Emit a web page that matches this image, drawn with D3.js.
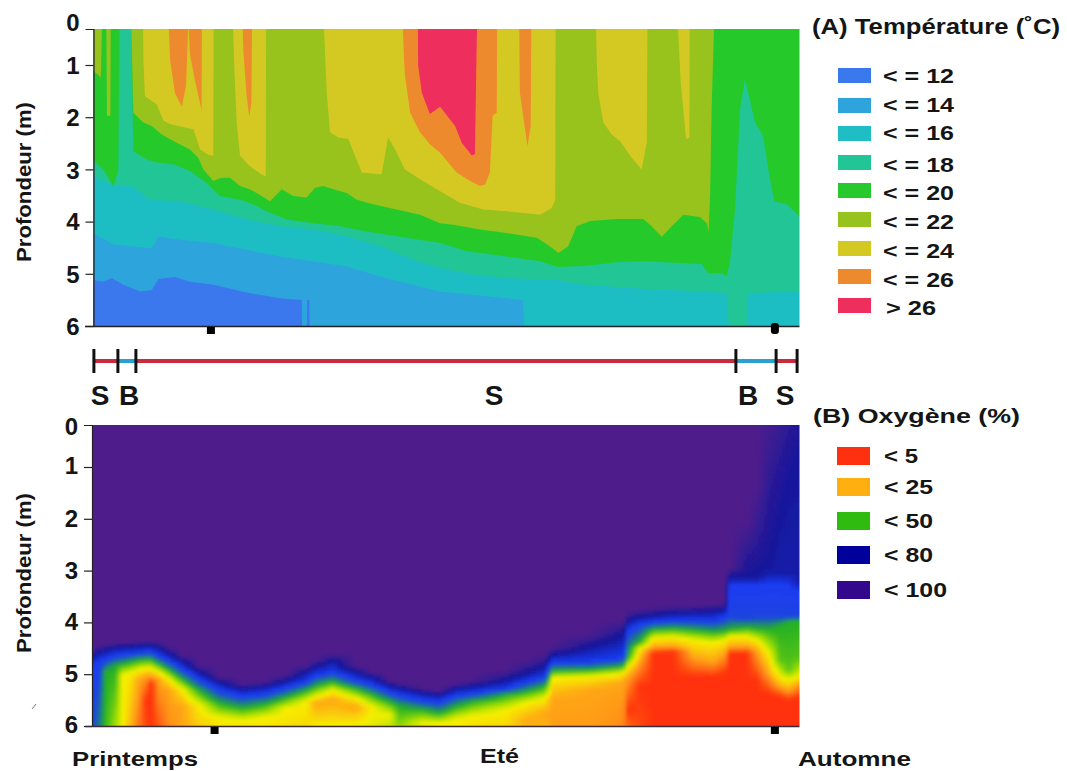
<!DOCTYPE html>
<html><head><meta charset="utf-8">
<script src="https://cdnjs.cloudflare.com/ajax/libs/d3/7.8.5/d3.min.js"></script>
<style>
html,body{margin:0;padding:0;background:#fff}
svg{display:block}
text{font-family:"Liberation Sans",Arial,sans-serif;font-weight:700;fill:#151515}
</style></head><body><div id="c"></div>
<script>
const _ = null;
// ---------- Panel A: temperature, depth (m) of each isotherm against day ----------
const tempLabels = ["< = 12","< = 14","< = 16","< = 18","< = 20","< = 22","< = 24","< = 26","> 26"];
const tempColors = ["#3a78ee","#2fa4dc","#1fbec4","#22c596","#28c92c","#97c31f","#d4c822","#ee8a2e","#ee2e5c"];
const iso12 = [[0,5.12],[3.45,5.15],[6.2,5.08],[10.1,5.21],[15.7,5.34],[19.6,5.31],[21.8,5.10],[27.3,5.06],[32.3,5.15],[40.1,5.21],[51.2,5.36],[62.3,5.47],[69.6,5.50],[69.7,6],[71.3,6],[71.4,5.50],[72.1,5.50],[72.2,6],[235.5,6]];
const iso14 = [[0,4.22],[6.8,4.44],[19.6,4.51],[21.8,4.28],[29,4.35],[40.1,4.41],[51.2,4.54],[62.3,4.67],[73.4,4.76],[84.6,4.86],[95.7,5.05],[106.8,5.21],[115.7,5.34],[126.8,5.40],[137.9,5.47],[143.4,5.50],[143.7,6],[235.5,6]];
const iso16 = [[0,3.13],[6.8,3.32],[12.9,3.32],[19,3.58],[29,3.61],[40.1,3.77],[51.2,3.96],[62.3,4.09],[73.4,4.15],[84.6,4.28],[95.7,4.47],[106.8,4.73],[115.7,4.89],[126.8,5.02],[137.9,5.08],[154.6,5.12],[163.4,5.21],[182.3,5.28],[202.3,5.34],[211.2,5.37],[212.1,6],[217.7,6],[218.4,5.37],[235.5,5.34]];
const iso18 = [[0,2.81],[3.45,3.0],[6.8,3.32],[7.1,3.29],[8.45,3.0],[8.8,0],[12.8,0],[12.9,0.86],[13.45,2.65],[17.9,2.81],[21.2,2.87],[26.8,2.90],[32.3,3.03],[37.9,3.26],[42.3,3.51],[49,3.58],[53.4,3.67],[57.9,3.80],[64.6,3.96],[73.4,4.03],[82.3,4.09],[91.2,4.19],[101.2,4.28],[115.7,4.41],[124.6,4.57],[137.9,4.67],[149,4.76],[155.1,4.87],[163.4,4.85],[174.6,4.78],[184.6,4.76],[193.4,4.79],[202.9,4.81],[205.1,4.99],[209.6,4.99],[211.2,5.05],[212.3,4.79],[214,3.77],[215.7,1.85],[217.3,1.27],[220.7,2.10],[223.4,2.36],[225.1,3.0],[227.1,3.61],[231.2,3.67],[235.5,3.90]];
const iso20 = [[0,1.1],[2.6,1.24],[3,0],[4.45,0],[4.67,1.97],[5.78,1.97],[5.89,0],[12.8,0],[12.9,0.4],[13.45,1.92],[16.8,2.10],[19.6,2.17],[22.9,2.33],[27.9,2.49],[32.3,2.62],[35.1,2.78],[36.8,3.0],[40.1,3.22],[42.9,3.16],[45.7,3.16],[49,3.32],[52.3,3.38],[56.2,3.51],[59,3.61],[62.9,3.38],[66.8,3.51],[71.2,3.54],[74,3.35],[76.8,3.32],[80.1,3.38],[84.6,3.45],[87.9,3.58],[93.4,3.67],[101.2,3.77],[109,3.87],[115.7,4.03],[120.1,4.06],[129,4.15],[137.9,4.22],[147.9,4.31],[152.3,4.47],[155.1,4.60],[158.4,4.47],[161.2,4.09],[165.7,3.99],[174.6,3.95],[183.4,3.95],[185.7,4.06],[189.6,4.29],[192.9,4.09],[196.8,3.87],[202.3,3.91],[204.6,4.03],[205.2,4.19],[205.7,3.51],[206.2,1.85],[207,0],[235.5,0]];
const iso22 = [[0,0],[16.7,0],[16.8,0.86],[17.3,1.60],[21.2,1.75],[23.5,2.07],[25.7,2.13],[29,2.18],[33.5,2.23],[35.7,2.62],[38.5,2.72],[40.1,2.74],[40.2,0],[46.7,0],[47,0.86],[47.9,2.10],[49,2.74],[52.3,2.94],[56.2,3.10],[57.6,3.13],[57.7,0],[77,0],[77.3,0.58],[77.9,1.53],[79,2.29],[81.8,2.39],[85.1,2.42],[89.6,3.06],[96.2,3.10],[98.4,2.39],[100.7,2.62],[104,3.0],[109,3.19],[115.7,3.42],[122.3,3.64],[130.1,3.77],[137.9,3.80],[149,3.87],[152.9,3.74],[154.1,3.58],[154.2,0],[167.7,0],[167.9,0.86],[168.4,1.53],[170.1,2.10],[172.9,2.33],[175.7,2.46],[179.6,2.78],[182.9,3.0],[184.6,2.49],[184.8,0],[195,0],[195.9,1.33],[197.7,2.42],[198.8,2.39],[198.9,0],[235.5,0]];
const iso24 = [[0,0],[25.3,0],[25.7,0.86],[27.3,1.53],[29.6,1.80],[31,1.40],[31.7,0.03],[31.9,0],[32.3,0.68],[34,1.3],[36.2,1.86],[36.3,0],[49.9,0],[50.1,0.58],[51.2,1.59],[52.1,1.99],[52.8,1.72],[53,0],[103.3,0],[103.7,0.86],[104,1.2],[105.7,1.91],[109,2.29],[112.3,2.52],[115.7,2.68],[121.2,3.06],[125.7,3.22],[129,3.32],[130.7,3.29],[132.3,3.06],[133.2,1.97],[134.6,1.91],[134.7,0],[142.1,0],[142.3,1.53],[144.8,2.55],[145.9,2.17],[146.1,0],[235.5,0]];
const iso26 = [[0,0],[108.3,0],[108.4,1.01],[109.6,1.53],[112.3,1.94],[115.7,1.8],[120.7,2.17],[122.9,2.49],[126.2,2.73],[127.3,2.71],[127.9,0.40],[128,0],[235.5,0]];
const isotherms = [iso12,iso14,iso16,iso18,iso20,iso22,iso24,iso26];

// ---------- Stratification phases ----------
const phaseBreakDays = [0.3,8.3,14.3,214.3,227.7,234.7];
const phases = ["S","B","S","B","S"];
const phaseColors = {S:"#c92a3e",B:"#2aa0d0"};

// ---------- Panel B: oxygen (%), depth (m) reached by each level in each column ----------
const o2Labels = ["< 5","< 25","< 50","< 80","< 100"];
const o2LegendColors = ["#ff3010","#ffb010","#30bb10","#00009a","#34088c"];
const o2Days = [0,2.3,4.6,7.9,10.1,12.3,15.7,17.9,19.6,22.4,25.7,30.1,35.7,42.3,50.1,57.9,64.6,71.2,74.6,80.1,87.9,93.5,99,102.3,110.1,
  115.7,121.2,126.8,137.9,144.6,150.7,153.4,165.7,175.7,177.1,178.4,182.3,186.8,193.4,200.1,206.8,210.7,212.3,217.9,221.2,225.1,229,231.8,235.5];
const depth100 = [4.54,4.44,4.41,4.38,4.38,4.37,4.36,4.35,4.35,4.37,4.47,4.64,4.83,5.04,5.18,5.13,5.0,4.83,4.72,4.60,4.83,4.96,5.12,5.17,5.26,
  5.31,5.18,5.11,4.92,4.73,4.60,4.47,4.22,3.96,3.9,3.77,3.74,3.71,3.67,3.67,3.64,3.61,2.94,2.04,1.4,_,_,_,_];
const depth88 = [4.67,4.57,4.54,4.49,4.47,4.47,4.45,4.44,4.44,4.49,4.60,4.74,4.96,5.15,5.28,5.23,5.12,4.96,4.85,4.73,4.96,5.06,5.21,5.26,5.36,
  5.40,5.28,5.23,5.12,4.99,4.86,4.62,4.47,4.28,4.22,3.99,3.90,3.87,3.82,3.80,3.78,3.74,3.13,3.13,3.13,2.94,2.04,1.40,0.95];
const depth86 = [_,_,_,_,_,_,_,_,_,_,_,_,_,_,_,_,_,_,_,_,_,_,_,_,_,
  _,_,_,_,_,_,_,_,_,_,_,_,_,_,_,_,_,_,_,_,3.05,3.05,3.05,3.25];
const depth75 = [4.83,4.76,4.70,4.63,4.62,4.60,4.58,4.57,4.57,4.65,4.74,4.90,5.10,5.30,5.42,5.37,5.26,5.15,5.02,4.96,5.12,5.21,5.34,5.40,5.50,
  5.53,5.40,5.37,5.28,5.15,5.05,4.77,4.76,4.70,4.63,4.15,4.03,3.99,3.96,3.96,3.97,3.90,3.30,3.29,3.29,3.26,3.26,3.29,3.40];
const depth70 = [_,_,_,_,_,_,_,_,_,_,_,_,_,_,_,_,_,_,_,_,_,_,_,_,_,
  _,_,_,_,_,_,_,_,_,_,_,_,_,_,_,_,_,3.90,3.93,3.90,3.90,3.90,3.90,3.90];
const depth50 = [_,_,4.96,4.85,4.81,4.78,4.73,4.72,4.72,4.81,4.92,5.10,5.32,5.56,5.66,5.58,5.45,5.32,5.23,5.15,5.28,5.40,5.53,5.62,5.69,
  5.76,5.63,5.53,5.40,5.34,5.24,4.94,4.92,4.86,4.83,4.67,4.38,4.14,4.12,4.15,4.19,4.17,4.14,4.10,4.12,4.14,4.06,3.99,3.96];
const depth45 = [_,_,_,_,_,_,_,_,_,_,_,_,_,_,_,_,_,_,_,_,_,_,_,_,_,
  _,_,_,_,_,_,_,_,_,_,_,_,_,_,_,_,_,_,_,_,_,4.73,4.92,4.70];
const depth30 = [_,_,_,_,5.02,4.99,4.92,4.89,4.89,4.97,5.10,5.29,5.60,5.85,5.90,5.83,5.66,5.53,5.44,5.32,5.47,5.64,5.79,_,5.95,
  5.95,5.88,5.81,5.69,5.56,5.47,5.08,5.05,5.0,4.96,4.86,4.51,4.31,4.29,4.35,4.40,4.35,4.28,4.28,4.35,4.60,5.05,5.12,5.05];
const depth20 = [_,_,_,_,_,_,5.11,5.04,5.03,5.11,5.31,5.63,_,_,_,_,_,_,5.56,5.50,5.63,_,_,_,_,
  _,_,_,_,5.92,5.76,5.47,5.31,5.18,5.11,5.05,4.76,4.47,4.46,4.67,4.76,4.60,4.47,4.46,4.54,4.99,5.24,5.31,5.18];
const depth5 = [_,_,_,_,_,_,_,5.50,5.18,_,_,_,_,_,_,_,_,_,_,_,_,_,_,_,_,
  _,_,_,_,_,_,_,_,_,_,5.69,5.24,4.60,4.57,5.05,5.05,4.99,4.60,4.60,5.12,5.37,5.44,5.50,5.44];
const bottomO2 = [72,60,48,38,31,24,13,8,5,10,17,20,25,29,29,29,28,27,30,30,31,32,36,40,36,
  30,30,28,27,22,22,19,19,17,15,12,8,5,5,5,5,5,5,5,5,5,5,5,5];
const surfaceO2 = [100,100,100,100,100,100,100,100,100,100,100,100,100,100,100,100,100,100,100,100,100,100,100,100,100,
  100,100,100,100,100,100,100,100,100,100,100,100,100,100,100,100,100,100,100,100,98,95,93,90];
const o2Levels = [[100,depth100],[88,depth88],[86,depth86],[75,depth75],[70,depth70],[50,depth50],[45,depth45],[30,depth30],[20,depth20],[5,depth5]];
const o2Stops = [5,20,30,38,50,70,75,88,100];
const o2StopColors = ["#ff3210","#ffa514","#f6ee00","#a8e000","#22b024","#1c44e0","#1a3cf2","#14189c","#501c8c"];

const depthTicks = [0,1,2,3,4,5,6];
const marksA = [39.3,227.3];
const marksB = [40.8,227.3];
const seasons = ["Printemps","Eté","Automne"];

// ---------- Layout ----------
const W = 1067, H = 771;
const svg = d3.select("#c").append("svg").attr("width",W).attr("height",H);
const defs = svg.append("defs");
const blur = (id,s)=>defs.append("filter").attr("id",id).attr("x","-5%").attr("y","-5%").attr("width","110%").attr("height","110%")
  .append("feGaussianBlur").attr("stdDeviation",s);
blur("bA",0.7); blur("bB",1.6);
defs.append("clipPath").attr("id","cA").append("rect").attr("x",93).attr("y",29).attr("width",706.5).attr("height",297);
defs.append("clipPath").attr("id","cB").append("rect").attr("x",92).attr("y",425).attr("width",707.5).attr("height",301);

const xA = d3.scaleLinear().domain([0,235.5]).range([93,799.5]);
const yA = d3.scaleLinear().domain([0,1,6]).range([29,65,326]);
const xB = d3.scaleLinear().domain([0,235.5]).range([92,799.5]);
const yB = d3.scaleLinear().domain([0,1,6]).range([425,467,726]);

// Panel A
const gA = svg.append("g").attr("clip-path","url(#cA)").append("g").attr("filter","url(#bA)");
gA.append("rect").attr("x",xA(-3)).attr("y",yA(0)-6).attr("width",xA(238.5)-xA(-3)).attr("height",yA(6)-yA(0)+12).attr("fill",tempColors[0]);
const area = d3.area().x(d=>xA(d[0])).y0(yA(0)-6).y1(d=>yA(d[1])>=yA(6)?yA(6)+6:yA(d[1]));
gA.selectAll("path.t").data(isotherms).join("path").attr("class","t")
  .attr("d",d=>area([[-3,d[0][1]],...d,[238.5,d[d.length-1][1]]]))
  .attr("fill",(d,i)=>tempColors[i+1]);

// Panel B
const o2Color = d3.scaleLinear().domain(o2Stops).range(o2StopColors).clamp(true);
const o2Profiles = o2Days.map((day,i)=>{
  const pts = [[0,surfaceO2[i]]];
  o2Levels.forEach(([v,arr])=>{ if(arr[i]!==null) pts.push([arr[i],v]); });
  pts.push([6,bottomO2[i]]);
  return d3.scaleLinear().domain(pts.map(p=>p[0])).range(pts.map(p=>p[1])).clamp(true);
});
const o2At = (day,depth)=>{
  const j = Math.max(1,Math.min(o2Days.length-1,d3.bisectRight(o2Days,day)));
  const t = Math.max(0,Math.min(1,(day-o2Days[j-1])/(o2Days[j]-o2Days[j-1])));
  return o2Profiles[j-1](depth)*(1-t)+o2Profiles[j](depth)*t;
};
const cellW = 3, cellH = 3, cells = [];
for(const px of d3.range(83,809,cellW)) for(const py of d3.range(416,736,cellH)) cells.push([px,py]);
svg.append("g").attr("clip-path","url(#cB)").append("g").attr("filter","url(#bB)")
  .selectAll("rect").data(cells).join("rect")
  .attr("x",d=>d[0]).attr("y",d=>d[1]).attr("width",cellW+0.5).attr("height",cellH+0.5)
  .attr("fill",d=>o2Color(o2At(xB.invert(d[0]+cellW/2),yB.invert(d[1]+cellH/2))));

// Axes
function yAxis(scale,x,zeroDy,labelShift){
  const g = svg.append("g").attr("transform",`translate(${x},0)`)
    .call(d3.axisLeft(scale).tickValues(depthTicks).tickSize(8).tickPadding(6).tickFormat(d3.format("d")));
  g.select(".domain").attr("stroke","#222").attr("stroke-width",1.2);
  g.selectAll(".tick line").attr("stroke","#222").attr("stroke-width",1.2).attr("opacity",d=>d===0?0:1);
  g.selectAll(".tick text").attr("font-size",24).attr("x",-14).attr("dy",(d,i)=>(d===0?zeroDy:labelShift[i])+"px")
    .style("font-family",'"Liberation Sans",Arial,sans-serif').style("font-weight",700).attr("fill","#151515");
  g.attr("font-family",null).attr("font-size",null);
  return g;
}
yAxis(yA,93.5,1,[0,8.5,8,9,7.5,9,8]);
yAxis(yB,92,9.5,[0,6.5,8,8,7,7,6]);
svg.append("line").attr("x1",85).attr("x2",799.5).attr("y1",yA(6)+.5).attr("y2",yA(6)+.5).attr("stroke","#222").attr("stroke-width",1.3);
svg.append("line").attr("x1",85).attr("x2",799.5).attr("y1",yB(6)+.5).attr("y2",yB(6)+.5).attr("stroke","#3a2a3a").attr("stroke-width",1.3);

// Season marks
marksA.forEach((d,i)=>svg.append("rect").attr("x",xA(d)-4).attr("y",i?323:327).attr("width",8).attr("height",i?11:7).attr("rx",i?3:0).attr("fill","#000"));
marksB.forEach(d=>svg.append("rect").attr("x",xB(d)-4).attr("y",727).attr("width",8).attr("height",7).attr("fill","#000"));

// Phase bar
phases.forEach((p,i)=>svg.append("line").attr("x1",xA(phaseBreakDays[i])).attr("x2",xA(phaseBreakDays[i+1]))
  .attr("y1",361).attr("y2",361).attr("stroke",phaseColors[p]).attr("stroke-width",4));
svg.selectAll("line.ph").data(phaseBreakDays).join("line").attr("class","ph")
  .attr("x1",d=>xA(d)).attr("x2",d=>xA(d)).attr("y1",349).attr("y2",373).attr("stroke","#111").attr("stroke-width",3);

function label(str,x,y,size,len,anchor){
  const t = svg.append("text").attr("x",x).attr("y",y).attr("font-size",size).text(str);
  if(anchor) t.attr("text-anchor",anchor);
  if(len) t.attr("textLength",len).attr("lengthAdjust","spacingAndGlyphs");
  return t;
}
const phaseLabelX = [100,129,494,748,785];
phases.forEach((p,i)=>label(p,phaseLabelX[i],405,28,0,"middle"));

// Y titles
[[182,25],[573,25]].forEach(([cy,cx])=>{
  svg.append("text").attr("transform",`translate(${cx},${cy}) rotate(-90)`).attr("text-anchor","middle")
    .attr("dy",6).attr("font-size",20).attr("textLength",160).attr("lengthAdjust","spacingAndGlyphs").text("Profondeur (m)");
});

// Seasons
label(seasons[0],72,766,21,126);
label(seasons[1],480,763,21,39);
label(seasons[2],798,766,20,113);

// Small speck left of panel B
svg.append("line").attr("x1",32).attr("y1",709).attr("x2",36).attr("y2",704).attr("stroke","#777").attr("stroke-width",1);

// Legend A
label("(A)  Température (˚C)",812,34,22,248);
const swA = [68,98,126,155,183,212,241,269,298], txA=[83,112,140,172,200,229,258,287,315];
tempLabels.forEach((t,i)=>{
  svg.append("rect").attr("x",838).attr("y",swA[i]).attr("width",33).attr("height",15).attr("fill",tempColors[i]);
  label(t,i===8?886:883,txA[i],21,i===8?50:71);
});

// Legend B
label("(B)  Oxygène (%)",813,423,21,207);
const swB=[447,478,512,546,581], txB=[463,494,528,562,597], lenB=[34,49,49,49,63];
o2Labels.forEach((t,i)=>{
  svg.append("rect").attr("x",837).attr("y",swB[i]).attr("width",33).attr("height",18).attr("fill",o2LegendColors[i]);
  label(t,884,txB[i],21,lenB[i]);
});
</script></body></html>
